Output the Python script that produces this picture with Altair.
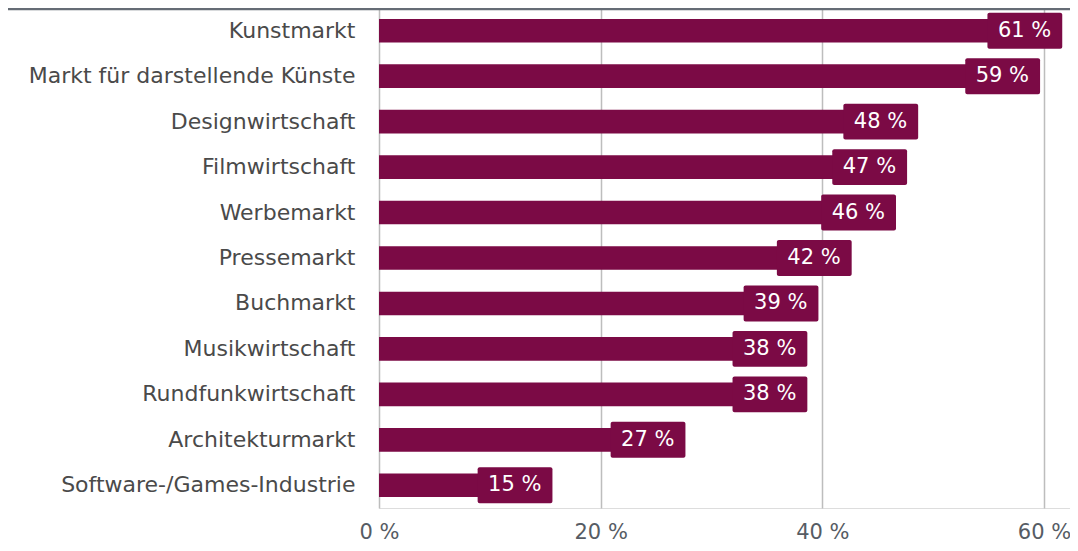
import altair as alt
import pandas as pd

categories = [
    "Kunstmarkt",
    "Markt für darstellende Künste",
    "Designwirtschaft",
    "Filmwirtschaft",
    "Werbemarkt",
    "Pressemarkt",
    "Buchmarkt",
    "Musikwirtschaft",
    "Rundfunkwirtschaft",
    "Architekturmarkt",
    "Software-/Games-Industrie",
]
values = [61, 59, 48, 47, 46, 42, 39, 38, 38, 27, 15]
x_ticks = [0, 20, 40, 60]

BAR = "#7b0a45"
FONT = "DejaVu Sans"

df = pd.DataFrame({"cat": categories, "val": values})
df["label"] = df["val"].astype(str) + " %"

yenc = alt.Y(
    "cat:N",
    sort=categories,
    scale=alt.Scale(paddingInner=0, paddingOuter=0),
    axis=alt.Axis(
        title=None, domain=False, ticks=False, grid=False,
        labelFontSize=22, labelFont=FONT, labelColor="#4a4a4a",
        labelPadding=24, labelLimit=500,
    ),
)

xscale = alt.Scale(domain=[0, 62.35], nice=False, zero=True)
xaxis = alt.Axis(
    values=x_ticks, labelExpr="datum.value + ' %'", title=None,
    domain=False, ticks=False, grid=True, gridColor="#bdbdbd", gridWidth=1.5,
    labelFontSize=21, labelFont=FONT, labelColor="#565c64", labelPadding=13,
    labelFlush=False,
)

base = alt.Chart(df)

bars = base.mark_bar(color=BAR, height={"band": 0.52}).encode(
    y=yenc, x=alt.X("val:Q", scale=xscale, axis=xaxis)
)

boxes = base.transform_calculate(
    lo="datum.val - 6.1", hi="datum.val + 0.65"
).mark_bar(color=BAR, height={"band": 0.79}, cornerRadius=2).encode(
    y=alt.Y("cat:N", sort=categories), x="lo:Q", x2="hi:Q"
)

text = base.transform_calculate(mid="datum.val - 2.75").mark_text(
    color="white", fontSize=21, font=FONT, baseline="middle", align="center"
).encode(y=alt.Y("cat:N", sort=categories), x="mid:Q", text="label:N")

top_line = alt.Chart(pd.DataFrame({"a": [0]})).mark_rule(
    color="#656c75", strokeWidth=2.5
).encode(x=alt.value(-371), x2=alt.value(691), y=alt.value(1))

chart = alt.layer(bars, boxes, text, top_line).properties(
    width=691,
    height=500,
    autosize=alt.AutoSizeParams(type="none"),
    padding={"left": 371, "top": 0, "right": 0, "bottom": 35},
).configure_view(stroke=None).configure(background="white")

chart.save("out.html", embed_options={"renderer": "svg", "actions": False})
